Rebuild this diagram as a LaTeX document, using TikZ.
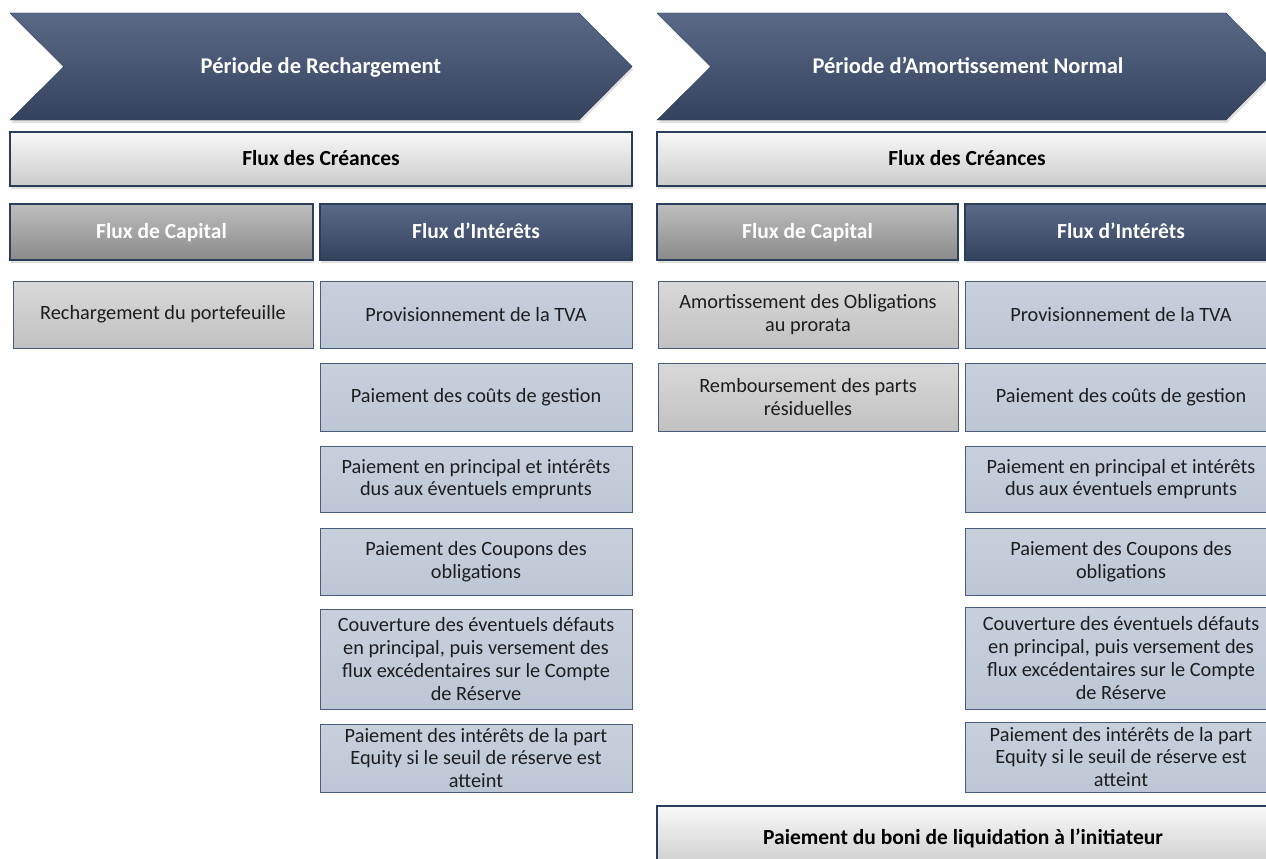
\documentclass[tikz,border=0pt]{standalone}
\usepackage{fontspec}
\setmainfont{Carlito}
\usetikzlibrary{shadows}

\definecolor{navytop}{HTML}{5A6A86}
\definecolor{navybot}{HTML}{34425E}
\definecolor{navyline}{HTML}{2C3D5A}
\definecolor{lighttop}{HTML}{F8F8F8}
\definecolor{lightbot}{HTML}{CBCBCB}
\definecolor{greytop}{HTML}{BEBEBE}
\definecolor{greybot}{HTML}{8A8A8A}
\definecolor{captop}{HTML}{D9D9D9}
\definecolor{capbot}{HTML}{C1C1C1}
\definecolor{inttop}{HTML}{C8D0DC}
\definecolor{intbot}{HTML}{BDC6D4}
\definecolor{boxline}{HTML}{4A5C7C}
\definecolor{bodytext}{HTML}{1E1E1E}

\tikzstyle{softshadow} = [drop shadow={shadow xshift=1pt,shadow yshift=-3pt,opacity=0.25}]
\tikzstyle{chevron} = [draw=navyline,top color=navytop,bottom color=navybot,softshadow]
\tikzstyle{periodtext} = [text=white,font=\bfseries\fontsize{22.5}{26}\selectfont,text height=1.2em,text depth=0pt]
\tikzstyle{lightbar} = [draw=navyline,line width=1.2pt,top color=lighttop,bottom color=lightbot,font=\bfseries\fontsize{21.5}{26}\selectfont,softshadow,inner sep=0,text height=1.2em,text depth=0pt]
\tikzstyle{caphead} = [draw=navyline,line width=1.2pt,top color=greytop,bottom color=greybot,text=white,font=\bfseries\fontsize{21.5}{26}\selectfont,softshadow,inner sep=0,text height=1.2em,text depth=0pt]
\tikzstyle{inthead} = [draw=navyline,line width=1.2pt,top color=navytop,bottom color=navybot,text=white,font=\bfseries\fontsize{21.5}{26}\selectfont,softshadow,inner sep=0,text height=1.2em,text depth=0pt]
\tikzstyle{capbox} = [draw=boxline,top color=captop,bottom color=capbot,text=bodytext,align=center,font=\fontsize{20.3}{22.8}\selectfont,inner sep=0]
\tikzstyle{intbox} = [draw=boxline,top color=inttop,bottom color=intbot,text=bodytext,align=center,font=\fontsize{20.3}{22.8}\selectfont,inner sep=0,minimum width=312]

\begin{document}
\begin{tikzpicture}[x=1pt,y=-1pt]
	\useasboundingbox (0,0) rectangle (1266,859);
	\clip (0,0) rectangle (1266,859);
	% Période de Rechargement
	\draw[chevron] (10,13) -- (579,13) -- (632,66.5) -- (579,120) -- (10,120) -- (64,66.5) -- cycle;
	\node[periodtext] (perL) at (321,68) {Période de Rechargement};
	\node[lightbar,minimum width=622,minimum height=54] (credL) at (321,159) {Flux des Créances};
	\node[caphead,minimum width=303,minimum height=56] (capHL) at (161.5,232) {Flux de Capital};
	\node[inthead,minimum width=312,minimum height=56] (intHL) at (476,232) {Flux d’Intérêts};
	\node[capbox,minimum width=300,minimum height=67] (capL) at (163,314.5) {Rechargement du portefeuille};
	\node[intbox,minimum height=67] (intL1) at (476,314.5) {Provisionnement de la TVA};
	\node[intbox,minimum height=68] (intL2) at (476,397) {Paiement des coûts de gestion};
	\node[intbox,minimum height=66] (intL3) at (476,479) {Paiement en principal et intérêts\\dus aux éventuels emprunts};
	\node[intbox,minimum height=67] (intL4) at (476,561.5) {Paiement des Coupons des\\obligations};
	\node[intbox,minimum height=100] (intL5) at (476,659) {Couverture des éventuels défauts\\en principal, puis versement des\\flux excédentaires sur le Compte\\de Réserve};
	\node[intbox,minimum height=68] (intL6) at (476,758) {Paiement des intérêts de la part\\Equity si le seuil de réserve est\\atteint};
	% Période d'Amortissement Normal
	\draw[chevron] (657,13) -- (1226,13) -- (1279,66.5) -- (1226,120) -- (657,120) -- (711,66.5) -- cycle;
	\node[periodtext] (perR) at (968,68) {Période d’Amortissement Normal};
	\node[lightbar,minimum width=620,minimum height=54] (credR) at (967,159) {Flux des Créances};
	\node[caphead,minimum width=301,minimum height=56] (capHR) at (807.5,232) {Flux de Capital};
	\node[inthead,minimum width=312,minimum height=56] (intHR) at (1121,232) {Flux d’Intérêts};
	\node[capbox,minimum width=300,minimum height=67] (capR1) at (808,314.5) {Amortissement des Obligations\\au prorata};
	\node[capbox,minimum width=300,minimum height=68] (capR2) at (808,397) {Remboursement des parts\\résiduelles};
	\node[intbox,minimum height=67] (intR1) at (1121,314.5) {Provisionnement de la TVA};
	\node[intbox,minimum height=68] (intR2) at (1121,397) {Paiement des coûts de gestion};
	\node[intbox,minimum height=66] (intR3) at (1121,479) {Paiement en principal et intérêts\\dus aux éventuels emprunts};
	\node[intbox,minimum height=67] (intR4) at (1121,561.5) {Paiement des Coupons des\\obligations};
	\node[intbox,minimum height=102] (intR5) at (1121,658) {Couverture des éventuels défauts\\en principal, puis versement des\\flux excédentaires sur le Compte\\de Réserve};
	\node[intbox,minimum height=70] (intR6) at (1121,757) {Paiement des intérêts de la part\\Equity si le seuil de réserve est\\atteint};
	\node[lightbar,minimum width=612,minimum height=64] (boni) at (963,838) {Paiement du boni de liquidation à l’initiateur};
\end{tikzpicture}
\end{document}
